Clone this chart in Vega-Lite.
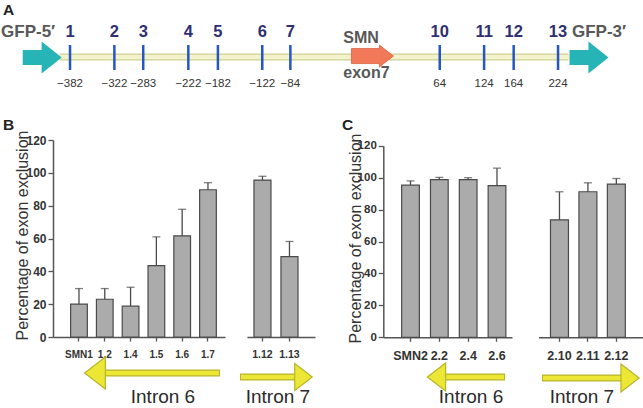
{
  "$schema": "https://vega.github.io/schema/vega-lite/v6.json",
  "width": 643,
  "height": 408,
  "autosize": {"type": "none"},
  "padding": 0,
  "background": "white",
  "config": {"view": {"stroke": null}, "font": "Liberation Sans", "text": {"font": "Liberation Sans"}},
  "datasets": {
    "sites": [
      {"site": "1", "coord": -382, "label": "−382"},
      {"site": "2", "coord": -322, "label": "−322"},
      {"site": "3", "coord": -283, "label": "−283"},
      {"site": "4", "coord": -222, "label": "−222"},
      {"site": "5", "coord": -182, "label": "−182"},
      {"site": "6", "coord": -122, "label": "−122"},
      {"site": "7", "coord": -84, "label": "−84"},
      {"site": "10", "coord": 118, "label": "64"},
      {"site": "11", "coord": 178, "label": "124"},
      {"site": "12", "coord": 218, "label": "164"},
      {"site": "13", "coord": 278, "label": "224"}
    ],
    "B_intron6": [
      {"construct": "SMN1", "mean": 20, "upper": 29.5},
      {"construct": "1.2", "mean": 23, "upper": 29.5},
      {"construct": "1.4", "mean": 18.8, "upper": 30.3},
      {"construct": "1.5", "mean": 43.5, "upper": 61},
      {"construct": "1.6", "mean": 61.6, "upper": 77.8},
      {"construct": "1.7", "mean": 89.7, "upper": 94}
    ],
    "B_intron7": [
      {"construct": "1.12", "mean": 95.6, "upper": 97.9},
      {"construct": "1.13", "mean": 49, "upper": 58.2}
    ],
    "C_intron6": [
      {"construct": "SMN2", "mean": 95.3, "upper": 98},
      {"construct": "2.2", "mean": 98.8, "upper": 100.2},
      {"construct": "2.4", "mean": 98.8, "upper": 100},
      {"construct": "2.6", "mean": 95, "upper": 106}
    ],
    "C_intron7": [
      {"construct": "2.10", "mean": 73.6, "upper": 91.2},
      {"construct": "2.11", "mean": 91.2, "upper": 96.8},
      {"construct": "2.12", "mean": 96, "upper": 99.5}
    ]
  },
  "resolve": {"scale": {"x": "independent", "y": "independent"}, "axis": {"x": "independent", "y": "independent"}},
  "layer": [
    {
      "layer": [
        {
          "data": {"values": [{"from": -396, "to": 292}]},
          "mark": {"type": "rule", "color": "#cfcf95", "strokeWidth": 7},
          "encoding": {
            "x": {"field": "from", "type": "quantitative", "scale": {"domain": [-476.7, 392.9], "range": [0, 643], "nice": false, "zero": false}, "axis": null},
            "x2": {"field": "to"},
            "y": {"datum": 0, "type": "quantitative", "scale": {"domain": [-1, 1], "range": [82, 32], "nice": false, "zero": false}, "axis": null}
          }
        },
        {
          "data": {"values": [{"from": -396, "to": 292}]},
          "mark": {"type": "rule", "color": "#f2f2cb", "strokeWidth": 4.5},
          "encoding": {
            "x": {"field": "from", "type": "quantitative", "scale": {"domain": [-476.7, 392.9], "range": [0, 643], "nice": false, "zero": false}, "axis": null},
            "x2": {"field": "to"},
            "y": {"datum": 0, "type": "quantitative", "scale": {"domain": [-1, 1], "range": [82, 32], "nice": false, "zero": false}, "axis": null}
          }
        },
        {
          "data": {"name": "sites"},
          "mark": {"type": "rule", "color": "#2457c5", "strokeWidth": 2.5},
          "encoding": {
            "x": {"field": "coord", "type": "quantitative", "scale": {"domain": [-476.7, 392.9], "range": [0, 643], "nice": false, "zero": false}, "axis": null},
            "y": {"datum": 0.48, "type": "quantitative", "scale": {"domain": [-1, 1], "range": [82, 32], "nice": false, "zero": false}, "axis": null},
            "y2": {"datum": -0.52}
          }
        },
        {
          "data": {"name": "sites"},
          "mark": {"type": "text", "fontSize": 16.5, "fontWeight": "bold", "color": "#2f2f72", "align": "center", "baseline": "alphabetic"},
          "encoding": {
            "x": {"field": "coord", "type": "quantitative", "scale": {"domain": [-476.7, 392.9], "range": [0, 643], "nice": false, "zero": false}, "axis": null},
            "y": {"datum": 0.81, "type": "quantitative", "scale": {"domain": [-1, 1], "range": [82, 32], "nice": false, "zero": false}, "axis": null},
            "text": {"field": "site"}
          }
        },
        {
          "data": {"name": "sites"},
          "mark": {"type": "text", "fontSize": 11.5, "color": "#333333", "align": "center", "baseline": "alphabetic"},
          "encoding": {
            "x": {"field": "coord", "type": "quantitative", "scale": {"domain": [-476.7, 392.9], "range": [0, 643], "nice": false, "zero": false}, "axis": null},
            "y": {"datum": -1.19, "type": "quantitative", "scale": {"domain": [-1, 1], "range": [82, 32], "nice": false, "zero": false}, "axis": null},
            "text": {"field": "label"}
          }
        },
        {
          "data": {"values": [{"gfp": "GFP-5′", "coord": -419.6}, {"gfp": "GFP-3′", "coord": 319.9}]},
          "mark": {"type": "point", "shape": "M-1,-0.38L-0.03,-0.38L-0.03,-0.82L1,0L-0.03,0.82L-0.03,0.38L-1,0.38Z", "size": 1521, "filled": true, "color": "#27b4b6", "opacity": 1},
          "encoding": {
            "x": {"field": "coord", "type": "quantitative", "scale": {"domain": [-476.7, 392.9], "range": [0, 643], "nice": false, "zero": false}, "axis": null},
            "y": {"datum": -0.02, "type": "quantitative", "scale": {"domain": [-1, 1], "range": [82, 32], "nice": false, "zero": false}, "axis": null}
          }
        },
        {
          "data": {"values": [{"gfp": "GFP-5′", "coord": -475.3}, {"gfp": "GFP-3′", "coord": 296.9}]},
          "mark": {"type": "text", "fontSize": 17, "fontWeight": "bold", "color": "#585858", "align": "left", "baseline": "alphabetic"},
          "encoding": {
            "x": {"field": "coord", "type": "quantitative", "scale": {"domain": [-476.7, 392.9], "range": [0, 643], "nice": false, "zero": false}, "axis": null},
            "y": {"datum": 0.81, "type": "quantitative", "scale": {"domain": [-1, 1], "range": [82, 32], "nice": false, "zero": false}, "axis": null},
            "text": {"field": "gfp"}
          }
        },
        {
          "data": {"values": [{"exon": "SMN exon7", "center": 27}]},
          "mark": {"type": "point", "shape": "M-1,-0.36L0.33,-0.36L0.33,-0.52L1,0L0.33,0.52L0.33,0.36L-1,0.36Z", "size": 1764, "filled": true, "fill": "#f2785a", "stroke": "#d9603f", "strokeWidth": 0.8, "opacity": 1},
          "encoding": {
            "x": {"field": "center", "type": "quantitative", "scale": {"domain": [-476.7, 392.9], "range": [0, 643], "nice": false, "zero": false}, "axis": null},
            "y": {"datum": 0.04, "type": "quantitative", "scale": {"domain": [-1, 1], "range": [82, 32], "nice": false, "zero": false}, "axis": null}
          }
        },
        {
          "data": {"values": [{"text": "SMN", "coord": -12.4, "lane": 0.55}, {"text": "exon7", "coord": -12.4, "lane": -0.84}]},
          "mark": {"type": "text", "fontSize": 16, "fontWeight": "bold", "color": "#585858", "align": "left", "baseline": "alphabetic"},
          "encoding": {
            "x": {"field": "coord", "type": "quantitative", "scale": {"domain": [-476.7, 392.9], "range": [0, 643], "nice": false, "zero": false}, "axis": null},
            "y": {"field": "lane", "type": "quantitative", "scale": {"domain": [-1, 1], "range": [82, 32], "nice": false, "zero": false}, "axis": null},
            "text": {"field": "text"}
          }
        },
        {
          "data": {"values": [{"panel": "A", "coord": -472.6, "lane": 1.68}, {"panel": "B", "coord": -472.6, "lane": -2.92}, {"panel": "C", "coord": -14.1, "lane": -2.92}]},
          "mark": {"type": "text", "fontSize": 15.5, "fontWeight": "bold", "color": "#222222", "align": "left", "baseline": "alphabetic"},
          "encoding": {
            "x": {"field": "coord", "type": "quantitative", "scale": {"domain": [-476.7, 392.9], "range": [0, 643], "nice": false, "zero": false}, "axis": null},
            "y": {"field": "lane", "type": "quantitative", "scale": {"domain": [-1, 1], "range": [82, 32], "nice": false, "zero": false}, "axis": null},
            "text": {"field": "panel"}
          }
        }
      ]
    },
    {
      "layer": [
        {
          "data": {"name": "B_intron6"},
          "mark": {"type": "bar", "fill": "#ababab", "stroke": "#4a4a4a", "strokeWidth": 1.2},
          "encoding": {
            "x": {"field": "construct", "type": "nominal", "scale": {"type": "band", "domain": ["SMN1", "1.2", "1.4", "1.5", "1.6", "1.7"], "range": [53, 225], "paddingInner": 0.353, "paddingOuter": 0.51, "align": 0.67},
              "axis": {"orient": "bottom", "offset": -71, "title": null, "labelAngle": 0, "labelFont": "Liberation Sans", "labelFontSize": 10, "labelFontWeight": "bold", "labelColor": "#333333", "labelPadding": 8.5, "tickSize": 4, "tickColor": "#555555", "tickWidth": 1.3, "domainColor": "#555555", "domainWidth": 1.5, "labelOverlap": false}},
            "y": {"field": "mean", "type": "quantitative", "scale": {"domain": [0, 120], "range": [337, 140], "nice": false, "zero": false},
              "axis": {"orient": "left", "offset": -53, "values": [0, 20, 40, 60, 80, 100, 120], "grid": false, "labelFont": "Liberation Sans", "labelFontSize": 12, "labelFontWeight": "bold", "labelColor": "#333333", "labelPadding": 2, "tickSize": 5, "tickColor": "#555555", "tickWidth": 1.3, "domainColor": "#555555", "domainWidth": 1.5, "title": "Percentage of exon exclusion", "titleFont": "Liberation Sans", "titleFontSize": 16, "titleFontWeight": "normal", "titleColor": "#333333", "titleAngle": -90, "titleAlign": "center", "titleBaseline": "alphabetic", "titleX": -26, "titleY": 235}}
          }
        },
        {
          "data": {"name": "B_intron6"},
          "mark": {"type": "rule", "color": "#4a4a4a", "strokeWidth": 1.3},
          "encoding": {
            "x": {"field": "construct", "type": "nominal", "scale": {"type": "band", "domain": ["SMN1", "1.2", "1.4", "1.5", "1.6", "1.7"], "range": [53, 225], "paddingInner": 0.353, "paddingOuter": 0.51, "align": 0.67}},
            "y": {"field": "mean", "type": "quantitative", "scale": {"domain": [0, 120], "range": [337, 140], "nice": false, "zero": false}},
            "y2": {"field": "upper"}
          }
        },
        {
          "data": {"name": "B_intron6"},
          "mark": {"type": "tick", "color": "#4a4a4a", "thickness": 1.3, "size": 8, "orient": "horizontal"},
          "encoding": {
            "x": {"field": "construct", "type": "nominal", "scale": {"type": "band", "domain": ["SMN1", "1.2", "1.4", "1.5", "1.6", "1.7"], "range": [53, 225], "paddingInner": 0.353, "paddingOuter": 0.51, "align": 0.67}},
            "y": {"field": "upper", "type": "quantitative", "scale": {"domain": [0, 120], "range": [337, 140], "nice": false, "zero": false}}
          }
        },
        {
          "data": {"values": [{"intron": "Intron 6", "from": "SMN1", "to": "1.7"}]},
          "mark": {"type": "rule", "color": "#b8b52c", "strokeWidth": 7, "xOffset": 16, "x2Offset": 12},
          "encoding": {
            "x": {"field": "from", "type": "nominal", "scale": {"type": "band", "domain": ["SMN1", "1.2", "1.4", "1.5", "1.6", "1.7"], "range": [53, 225], "paddingInner": 0.353, "paddingOuter": 0.51, "align": 0.67}},
            "x2": {"field": "to"},
            "y": {"datum": -21.9, "type": "quantitative", "scale": {"domain": [0, 120], "range": [337, 140], "nice": false, "zero": false}}
          }
        },
        {
          "data": {"values": [{"intron": "Intron 6", "from": "SMN1", "to": "1.7"}]},
          "mark": {"type": "rule", "color": "#ece734", "strokeWidth": 4.5, "xOffset": 16, "x2Offset": 11},
          "encoding": {
            "x": {"field": "from", "type": "nominal", "scale": {"type": "band", "domain": ["SMN1", "1.2", "1.4", "1.5", "1.6", "1.7"], "range": [53, 225], "paddingInner": 0.353, "paddingOuter": 0.51, "align": 0.67}},
            "x2": {"field": "to"},
            "y": {"datum": -21.9, "type": "quantitative", "scale": {"domain": [0, 120], "range": [337, 140], "nice": false, "zero": false}}
          }
        },
        {
          "data": {"values": [{"intron": "Intron 6", "from": "SMN1", "to": "1.7"}]},
          "mark": {"type": "point", "shape": "M-0.65,0L0.65,-1L0.65,1Z", "size": 1024, "filled": true, "fill": "#ece734", "stroke": "#b8b52c", "strokeWidth": 1.2, "opacity": 1, "xOffset": 16},
          "encoding": {
            "x": {"field": "from", "type": "nominal", "scale": {"type": "band", "domain": ["SMN1", "1.2", "1.4", "1.5", "1.6", "1.7"], "range": [53, 225], "paddingInner": 0.353, "paddingOuter": 0.51, "align": 0.67}},
            "y": {"datum": -21.9, "type": "quantitative", "scale": {"domain": [0, 120], "range": [337, 140], "nice": false, "zero": false}}
          }
        },
        {
          "data": {"values": [{"intron": "Intron 6", "from": "SMN1", "to": "1.7"}]},
          "mark": {"type": "text", "fontSize": 19, "color": "#2b2b2b", "align": "center", "baseline": "alphabetic", "xOffset": 84},
          "encoding": {
            "x": {"field": "from", "type": "nominal", "scale": {"type": "band", "domain": ["SMN1", "1.2", "1.4", "1.5", "1.6", "1.7"], "range": [53, 225], "paddingInner": 0.353, "paddingOuter": 0.51, "align": 0.67}},
            "y": {"datum": -40.2, "type": "quantitative", "scale": {"domain": [0, 120], "range": [337, 140], "nice": false, "zero": false}},
            "text": {"field": "intron"}
          }
        }
      ]
    },
    {
      "layer": [
        {
          "data": {"name": "B_intron7"},
          "mark": {"type": "bar", "fill": "#ababab", "stroke": "#4a4a4a", "strokeWidth": 1.2},
          "encoding": {
            "x": {"field": "construct", "type": "nominal", "scale": {"type": "band", "domain": ["1.12", "1.13"], "range": [247, 315], "paddingInner": 0.37, "paddingOuter": 0.444, "align": 0.29},
              "axis": {"orient": "bottom", "offset": -71, "title": null, "labelAngle": 0, "labelFont": "Liberation Sans", "labelFontSize": 10.5, "labelFontWeight": "bold", "labelColor": "#333333", "labelPadding": 8.5, "tickSize": 4, "tickColor": "#555555", "tickWidth": 1.3, "domainColor": "#555555", "domainWidth": 1.5, "labelOverlap": false}},
            "y": {"field": "mean", "type": "quantitative", "scale": {"domain": [0, 120], "range": [337, 140], "nice": false, "zero": false}, "axis": null}
          }
        },
        {
          "data": {"name": "B_intron7"},
          "mark": {"type": "rule", "color": "#4a4a4a", "strokeWidth": 1.3},
          "encoding": {
            "x": {"field": "construct", "type": "nominal", "scale": {"type": "band", "domain": ["1.12", "1.13"], "range": [247, 315], "paddingInner": 0.37, "paddingOuter": 0.444, "align": 0.29}},
            "y": {"field": "mean", "type": "quantitative", "scale": {"domain": [0, 120], "range": [337, 140], "nice": false, "zero": false}},
            "y2": {"field": "upper"}
          }
        },
        {
          "data": {"name": "B_intron7"},
          "mark": {"type": "tick", "color": "#4a4a4a", "thickness": 1.3, "size": 8, "orient": "horizontal"},
          "encoding": {
            "x": {"field": "construct", "type": "nominal", "scale": {"type": "band", "domain": ["1.12", "1.13"], "range": [247, 315], "paddingInner": 0.37, "paddingOuter": 0.444, "align": 0.29}},
            "y": {"field": "upper", "type": "quantitative", "scale": {"domain": [0, 120], "range": [337, 140], "nice": false, "zero": false}}
          }
        },
        {
          "data": {"values": [{"intron": "Intron 7", "from": "1.12", "to": "1.13"}]},
          "mark": {"type": "rule", "color": "#b8b52c", "strokeWidth": 7, "xOffset": -22.5, "x2Offset": 13.5},
          "encoding": {
            "x": {"field": "from", "type": "nominal", "scale": {"type": "band", "domain": ["1.12", "1.13"], "range": [247, 315], "paddingInner": 0.37, "paddingOuter": 0.444, "align": 0.29}},
            "x2": {"field": "to"},
            "y": {"datum": -24.4, "type": "quantitative", "scale": {"domain": [0, 120], "range": [337, 140], "nice": false, "zero": false}}
          }
        },
        {
          "data": {"values": [{"intron": "Intron 7", "from": "1.12", "to": "1.13"}]},
          "mark": {"type": "rule", "color": "#ece734", "strokeWidth": 4.5, "xOffset": -21.5, "x2Offset": 13.5},
          "encoding": {
            "x": {"field": "from", "type": "nominal", "scale": {"type": "band", "domain": ["1.12", "1.13"], "range": [247, 315], "paddingInner": 0.37, "paddingOuter": 0.444, "align": 0.29}},
            "x2": {"field": "to"},
            "y": {"datum": -24.4, "type": "quantitative", "scale": {"domain": [0, 120], "range": [337, 140], "nice": false, "zero": false}}
          }
        },
        {
          "data": {"values": [{"intron": "Intron 7", "from": "1.12", "to": "1.13"}]},
          "mark": {"type": "point", "shape": "M0.65,0L-0.65,-1L-0.65,1Z", "size": 729, "filled": true, "fill": "#ece734", "stroke": "#b8b52c", "strokeWidth": 1.2, "opacity": 1, "xOffset": 14},
          "encoding": {
            "x": {"field": "to", "type": "nominal", "scale": {"type": "band", "domain": ["1.12", "1.13"], "range": [247, 315], "paddingInner": 0.37, "paddingOuter": 0.444, "align": 0.29}},
            "y": {"datum": -24.4, "type": "quantitative", "scale": {"domain": [0, 120], "range": [337, 140], "nice": false, "zero": false}}
          }
        },
        {
          "data": {"values": [{"intron": "Intron 7", "from": "1.12", "to": "1.13"}]},
          "mark": {"type": "text", "fontSize": 19, "color": "#2b2b2b", "align": "center", "baseline": "alphabetic", "xOffset": 15.5},
          "encoding": {
            "x": {"field": "from", "type": "nominal", "scale": {"type": "band", "domain": ["1.12", "1.13"], "range": [247, 315], "paddingInner": 0.37, "paddingOuter": 0.444, "align": 0.29}},
            "y": {"datum": -40.2, "type": "quantitative", "scale": {"domain": [0, 120], "range": [337, 140], "nice": false, "zero": false}},
            "text": {"field": "intron"}
          }
        }
      ]
    },
    {
      "layer": [
        {
          "data": {"name": "C_intron6"},
          "mark": {"type": "bar", "fill": "#ababab", "stroke": "#4a4a4a", "strokeWidth": 1.2},
          "encoding": {
            "x": {"field": "construct", "type": "nominal", "scale": {"type": "band", "domain": ["SMN2", "2.2", "2.4", "2.6"], "range": [383.3, 512], "paddingInner": 0.386, "paddingOuter": 0.425, "align": 0.749},
              "axis": {"orient": "bottom", "offset": -70.7, "title": null, "labelAngle": 0, "labelFont": "Liberation Sans", "labelFontSize": 12.5, "labelFontWeight": "bold", "labelColor": "#333333", "labelPadding": 8.5, "tickSize": 4, "tickColor": "#555555", "tickWidth": 1.3, "domainColor": "#555555", "domainWidth": 1.5, "labelOverlap": false}},
            "y": {"field": "mean", "type": "quantitative", "scale": {"domain": [0, 120], "range": [337.3, 145.8], "nice": false, "zero": false},
              "axis": {"orient": "left", "offset": -383.3, "values": [0, 20, 40, 60, 80, 100, 120], "grid": false, "labelFont": "Liberation Sans", "labelFontSize": 11.5, "labelFontWeight": "bold", "labelColor": "#333333", "labelPadding": 2, "tickSize": 5, "tickColor": "#555555", "tickWidth": 1.3, "domainColor": "#555555", "domainWidth": 1.5, "title": "Percentage of exon exclusion", "titleFont": "Liberation Sans", "titleFontSize": 16, "titleFontWeight": "normal", "titleColor": "#333333", "titleAngle": -90, "titleAlign": "center", "titleBaseline": "alphabetic", "titleX": -23.3, "titleY": 238}}
          }
        },
        {
          "data": {"name": "C_intron6"},
          "mark": {"type": "rule", "color": "#4a4a4a", "strokeWidth": 1.3},
          "encoding": {
            "x": {"field": "construct", "type": "nominal", "scale": {"type": "band", "domain": ["SMN2", "2.2", "2.4", "2.6"], "range": [383.3, 512], "paddingInner": 0.386, "paddingOuter": 0.425, "align": 0.749}},
            "y": {"field": "mean", "type": "quantitative", "scale": {"domain": [0, 120], "range": [337.3, 145.8], "nice": false, "zero": false}},
            "y2": {"field": "upper"}
          }
        },
        {
          "data": {"name": "C_intron6"},
          "mark": {"type": "tick", "color": "#4a4a4a", "thickness": 1.3, "size": 8, "orient": "horizontal"},
          "encoding": {
            "x": {"field": "construct", "type": "nominal", "scale": {"type": "band", "domain": ["SMN2", "2.2", "2.4", "2.6"], "range": [383.3, 512], "paddingInner": 0.386, "paddingOuter": 0.425, "align": 0.749}},
            "y": {"field": "upper", "type": "quantitative", "scale": {"domain": [0, 120], "range": [337.3, 145.8], "nice": false, "zero": false}}
          }
        },
        {
          "data": {"values": [{"intron": "Intron 6", "from": "SMN2", "to": "2.6"}]},
          "mark": {"type": "rule", "color": "#b8b52c", "strokeWidth": 7, "xOffset": 26, "x2Offset": 8},
          "encoding": {
            "x": {"field": "from", "type": "nominal", "scale": {"type": "band", "domain": ["SMN2", "2.2", "2.4", "2.6"], "range": [383.3, 512], "paddingInner": 0.386, "paddingOuter": 0.425, "align": 0.749}},
            "x2": {"field": "to"},
            "y": {"datum": -24.9, "type": "quantitative", "scale": {"domain": [0, 120], "range": [337.3, 145.8], "nice": false, "zero": false}}
          }
        },
        {
          "data": {"values": [{"intron": "Intron 6", "from": "SMN2", "to": "2.6"}]},
          "mark": {"type": "rule", "color": "#ece734", "strokeWidth": 4.5, "xOffset": 26, "x2Offset": 7},
          "encoding": {
            "x": {"field": "from", "type": "nominal", "scale": {"type": "band", "domain": ["SMN2", "2.2", "2.4", "2.6"], "range": [383.3, 512], "paddingInner": 0.386, "paddingOuter": 0.425, "align": 0.749}},
            "x2": {"field": "to"},
            "y": {"datum": -24.9, "type": "quantitative", "scale": {"domain": [0, 120], "range": [337.3, 145.8], "nice": false, "zero": false}}
          }
        },
        {
          "data": {"values": [{"intron": "Intron 6", "from": "SMN2", "to": "2.6"}]},
          "mark": {"type": "point", "shape": "M-0.65,0L0.65,-1L0.65,1Z", "size": 784, "filled": true, "fill": "#ece734", "stroke": "#b8b52c", "strokeWidth": 1.2, "opacity": 1, "xOffset": 26},
          "encoding": {
            "x": {"field": "from", "type": "nominal", "scale": {"type": "band", "domain": ["SMN2", "2.2", "2.4", "2.6"], "range": [383.3, 512], "paddingInner": 0.386, "paddingOuter": 0.425, "align": 0.749}},
            "y": {"datum": -24.9, "type": "quantitative", "scale": {"domain": [0, 120], "range": [337.3, 145.8], "nice": false, "zero": false}}
          }
        },
        {
          "data": {"values": [{"intron": "Intron 6", "from": "SMN2", "to": "2.6"}]},
          "mark": {"type": "text", "fontSize": 19, "color": "#2b2b2b", "align": "center", "baseline": "alphabetic", "xOffset": 60.5},
          "encoding": {
            "x": {"field": "from", "type": "nominal", "scale": {"type": "band", "domain": ["SMN2", "2.2", "2.4", "2.6"], "range": [383.3, 512], "paddingInner": 0.386, "paddingOuter": 0.425, "align": 0.749}},
            "y": {"datum": -41.2, "type": "quantitative", "scale": {"domain": [0, 120], "range": [337.3, 145.8], "nice": false, "zero": false}},
            "text": {"field": "intron"}
          }
        }
      ]
    },
    {
      "layer": [
        {
          "data": {"name": "C_intron7"},
          "mark": {"type": "bar", "fill": "#ababab", "stroke": "#4a4a4a", "strokeWidth": 1.2},
          "encoding": {
            "x": {"field": "construct", "type": "nominal", "scale": {"type": "band", "domain": ["2.10", "2.11", "2.12"], "range": [538.5, 652], "paddingInner": 0.368, "paddingOuter": 0.68, "align": 0.31},
              "axis": {"orient": "bottom", "offset": -70.7, "title": null, "labelAngle": 0, "labelFont": "Liberation Sans", "labelFontSize": 12.5, "labelFontWeight": "bold", "labelColor": "#333333", "labelPadding": 8.5, "tickSize": 4, "tickColor": "#555555", "tickWidth": 1.3, "domainColor": "#555555", "domainWidth": 1.5, "labelOverlap": false}},
            "y": {"field": "mean", "type": "quantitative", "scale": {"domain": [0, 120], "range": [337.3, 145.8], "nice": false, "zero": false}, "axis": null}
          }
        },
        {
          "data": {"name": "C_intron7"},
          "mark": {"type": "rule", "color": "#4a4a4a", "strokeWidth": 1.3},
          "encoding": {
            "x": {"field": "construct", "type": "nominal", "scale": {"type": "band", "domain": ["2.10", "2.11", "2.12"], "range": [538.5, 652], "paddingInner": 0.368, "paddingOuter": 0.68, "align": 0.31}},
            "y": {"field": "mean", "type": "quantitative", "scale": {"domain": [0, 120], "range": [337.3, 145.8], "nice": false, "zero": false}},
            "y2": {"field": "upper"}
          }
        },
        {
          "data": {"name": "C_intron7"},
          "mark": {"type": "tick", "color": "#4a4a4a", "thickness": 1.3, "size": 8, "orient": "horizontal"},
          "encoding": {
            "x": {"field": "construct", "type": "nominal", "scale": {"type": "band", "domain": ["2.10", "2.11", "2.12"], "range": [538.5, 652], "paddingInner": 0.368, "paddingOuter": 0.68, "align": 0.31}},
            "y": {"field": "upper", "type": "quantitative", "scale": {"domain": [0, 120], "range": [337.3, 145.8], "nice": false, "zero": false}}
          }
        },
        {
          "data": {"values": [{"intron": "Intron 7", "from": "2.10", "to": "2.12"}]},
          "mark": {"type": "rule", "color": "#b8b52c", "strokeWidth": 7, "xOffset": -17.5, "x2Offset": 13.7},
          "encoding": {
            "x": {"field": "from", "type": "nominal", "scale": {"type": "band", "domain": ["2.10", "2.11", "2.12"], "range": [538.5, 652], "paddingInner": 0.368, "paddingOuter": 0.68, "align": 0.31}},
            "x2": {"field": "to"},
            "y": {"datum": -25.5, "type": "quantitative", "scale": {"domain": [0, 120], "range": [337.3, 145.8], "nice": false, "zero": false}}
          }
        },
        {
          "data": {"values": [{"intron": "Intron 7", "from": "2.10", "to": "2.12"}]},
          "mark": {"type": "rule", "color": "#ece734", "strokeWidth": 4.5, "xOffset": -16.5, "x2Offset": 13.7},
          "encoding": {
            "x": {"field": "from", "type": "nominal", "scale": {"type": "band", "domain": ["2.10", "2.11", "2.12"], "range": [538.5, 652], "paddingInner": 0.368, "paddingOuter": 0.68, "align": 0.31}},
            "x2": {"field": "to"},
            "y": {"datum": -25.5, "type": "quantitative", "scale": {"domain": [0, 120], "range": [337.3, 145.8], "nice": false, "zero": false}}
          }
        },
        {
          "data": {"values": [{"intron": "Intron 7", "from": "2.10", "to": "2.12"}]},
          "mark": {"type": "point", "shape": "M0.65,0L-0.65,-1L-0.65,1Z", "size": 784, "filled": true, "fill": "#ece734", "stroke": "#b8b52c", "strokeWidth": 1.2, "opacity": 1, "xOffset": 13.7},
          "encoding": {
            "x": {"field": "to", "type": "nominal", "scale": {"type": "band", "domain": ["2.10", "2.11", "2.12"], "range": [538.5, 652], "paddingInner": 0.368, "paddingOuter": 0.68, "align": 0.31}},
            "y": {"datum": -25.5, "type": "quantitative", "scale": {"domain": [0, 120], "range": [337.3, 145.8], "nice": false, "zero": false}}
          }
        },
        {
          "data": {"values": [{"intron": "Intron 7", "from": "2.10", "to": "2.12"}]},
          "mark": {"type": "text", "fontSize": 19, "color": "#2b2b2b", "align": "center", "baseline": "alphabetic", "xOffset": 22.5},
          "encoding": {
            "x": {"field": "from", "type": "nominal", "scale": {"type": "band", "domain": ["2.10", "2.11", "2.12"], "range": [538.5, 652], "paddingInner": 0.368, "paddingOuter": 0.68, "align": 0.31}},
            "y": {"datum": -41.2, "type": "quantitative", "scale": {"domain": [0, 120], "range": [337.3, 145.8], "nice": false, "zero": false}},
            "text": {"field": "intron"}
          }
        }
      ]
    }
  ]
}
